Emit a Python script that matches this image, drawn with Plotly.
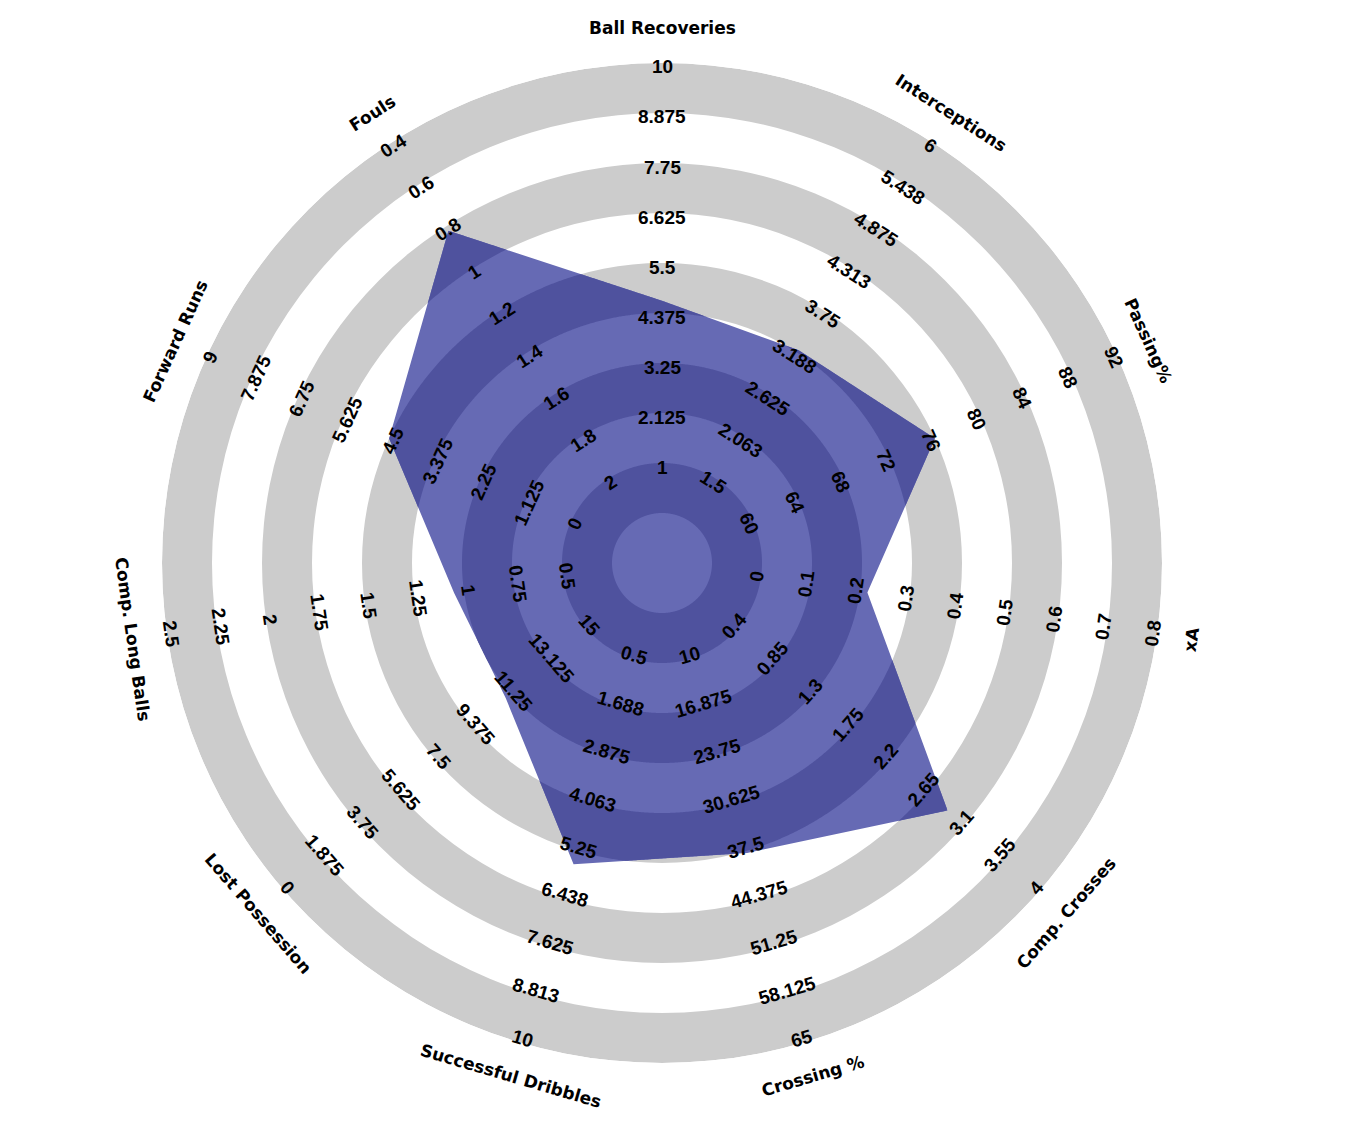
import math
from decimal import Decimal, ROUND_HALF_UP

import numpy as np
import plotly.graph_objects as go

# parameters, clockwise from the top
params = ['Ball Recoveries', 'Interceptions', 'Passing%', 'xA', 'Comp. Crosses',
          'Crossing %', 'Successful Dribbles', 'Lost Possession', 'Comp. Long Balls',
          'Forward Runs', 'Fouls']
# value at the inner ring and at the outer ring (Lost Possession / Fouls are inverted)
low = [1, 1.5, 60, 0, 0.4, 10, 0.5, 15, 0.5, 0, 2]
high = [10, 6, 92, 0.8, 4, 65, 10, 0, 2.5, 9, 0.4]
# player values
values = [4.65, 3.22, 76, 0.215, 2.9, 37.8, 5.58, 11.0, 1.05, 4.5, 0.82]

N_LABELS = 9
GRAY = '#cccccc'
LIGHT = '#666ab4'
DARK = '#4f529e'

# figure geometry (browser body has an 8px margin)
W, H = 1356, 1126
CX, CY = 654, 555
R = 500


def fmt(v):
    d = Decimal(str(round(v, 8))).quantize(Decimal('0.001'), rounding=ROUND_HALF_UP)
    s = format(d, 'f').rstrip('0').rstrip('.')
    return '0' if s in ('', '-0') else s


def to_u(v, lo, hi):
    return 2 + 8 * (v - lo) / (hi - lo)


n = len(params)
angles = [i * 360 / n for i in range(n)]
u_vals = [to_u(v, lo, hi) for v, lo, hi in zip(values, low, high)]

fig = go.Figure()

# grey rings
for a in [1, 3, 5, 7, 9]:
    fig.add_trace(go.Barpolar(r=[1], base=[a], theta=[0], width=[360],
                              marker=dict(color=GRAY, line=dict(width=0)),
                              hoverinfo='skip', showlegend=False))

# radar polygon
fig.add_trace(go.Scatterpolar(r=u_vals + [u_vals[0]], theta=angles + [angles[0]],
                              mode='lines', fill='toself', fillcolor=LIGHT,
                              line=dict(width=0, color=LIGHT),
                              hoverinfo='skip', showlegend=False))

# darker parts of the polygon where it covers the grey rings
px_ = np.array([u * math.sin(math.radians(t)) for u, t in zip(u_vals, angles)])
py_ = np.array([u * math.cos(math.radians(t)) for u, t in zip(u_vals, angles)])
phis = np.linspace(0, 360, 1441)
rp = []
for phi in phis:
    dx, dy = math.sin(math.radians(phi)), math.cos(math.radians(phi))
    best = None
    for i in range(n):
        j = (i + 1) % n
        ex, ey = px_[j] - px_[i], py_[j] - py_[i]
        den = dx * (-ey) - dy * (-ex)
        if abs(den) < 1e-12:
            continue
        t = (px_[i] * (-ey) - py_[i] * (-ex)) / den
        s = (dx * py_[i] - dy * px_[i]) / den
        if -1e-9 <= s <= 1 + 1e-9 and t > 0:
            best = t if best is None else min(best, t)
    rp.append(best)
rp = np.array(rp)
for a in [1, 3, 5, 7, 9]:
    outer = np.clip(rp, a, a + 1)
    rr = list(outer) + [a] * len(phis)
    tt = list(phis) + list(phis[::-1])
    fig.add_trace(go.Scatterpolar(r=rr, theta=tt, mode='lines', fill='toself',
                                  fillcolor=DARK, line=dict(width=0, color=DARK),
                                  hoverinfo='skip', showlegend=False))


def place(u, phi):
    rad = R * u / 10
    x = CX + rad * math.sin(math.radians(phi))
    y = CY - rad * math.cos(math.radians(phi))
    ang = phi if math.cos(math.radians(phi)) >= 0 else phi - 180
    ang = (ang + 180) % 360 - 180
    return x / W, 1 - y / H, ang


annotations = []
for p, lo, hi, phi in zip(params, low, high, angles):
    x, y, ang = place(10.7, phi)
    annotations.append(dict(x=x, y=y, xref='paper', yref='paper', text='<b>%s</b>' % p,
                            showarrow=False, textangle=ang, xanchor='center', yanchor='middle',
                            font=dict(family='DejaVu Sans', size=17, color='#000000')))
    for k, v in enumerate(np.linspace(lo, hi, N_LABELS)):
        x, y, ang = place(2 + k - 0.08, phi)
        annotations.append(dict(x=x, y=y, xref='paper', yref='paper', text='<b>%s</b>' % fmt(v),
                                showarrow=False, textangle=ang, xanchor='center', yanchor='middle',
                                font=dict(family='Liberation Sans', size=19, color='#000000')))

fig.update_layout(
    width=W, height=H,
    margin=dict(l=0, r=0, t=0, b=0),
    paper_bgcolor='white',
    showlegend=False,
    annotations=annotations,
    polar=dict(
        domain=dict(x=[(CX - R) / W, (CX + R) / W], y=[(H - CY - R) / H, (H - CY + R) / H]),
        bgcolor='white',
        radialaxis=dict(range=[0, 10], visible=False),
        angularaxis=dict(direction='clockwise', rotation=90, visible=False),
        barmode='overlay',
    ),
)

fig.write_html('out.html')
